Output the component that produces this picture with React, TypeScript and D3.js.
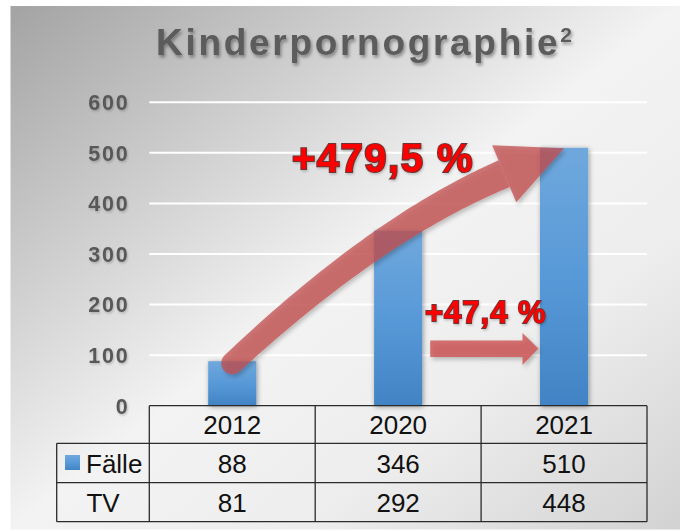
import React from 'react';
import * as d3 from 'd3';

const years = ['2012', '2020', '2021'];
const faelle = [88, 346, 510];
const tv = [81, 292, 448];
const yTicks = [0, 100, 200, 300, 400, 500, 600];
const rowLabels = ['Fälle', 'TV'];
const titleMain = 'Kinderpornographie';
const titleSup = '2';
const bigGrowthLabel = '+479,5 %';
const smallGrowthLabel = '+47,4 %';
const smallArrowLevel = 113;

export default function App() {
  const W = 680, H = 531;
  const plotLeft = 149.3, plotRight = 647;
  const tableLeft = 56.7;
  const y = d3.scaleLinear().domain([0, 600]).range([405.7, 102.3]);
  const col = d3.scaleBand<string>().domain(years).range([plotLeft, plotRight]);
  const xBar = d3.scaleBand<string>().domain(years).range([plotLeft, plotRight]).paddingInner(0.71).paddingOuter(0.355);
  const bw = xBar.bandwidth();
  const rowEdges = [y(0), 443.3, 482.7, 521.7];
  const font = "'Liberation Sans', Arial, sans-serif";

  // big curved arrow from top of first bar to top of last bar
  const S = { x: xBar(years[0])! + bw / 2, y: y(faelle[0]) + 2 };
  const T = { x: xBar(years[2])! + bw / 2, y: y(faelle[2]) + 0.5 };
  const endDir = (() => { const a = Math.atan2(-0.39, 0.92); return { x: Math.cos(a), y: Math.sin(a) }; })();
  const headLen = 65, headHalf = 31;
  const B = { x: T.x - endDir.x * headLen, y: T.y - endDir.y * headLen };
  const sa = (43 * Math.PI) / 180;
  const startDir = { x: Math.cos(sa), y: -Math.sin(sa) };
  const det = startDir.x * (-endDir.y) - (-endDir.x) * startDir.y;
  const dx = B.x - S.x, dy = B.y - S.y;
  const aPar = (dx * (-endDir.y) - (-endDir.x) * dy) / det;
  const C = { x: S.x + aPar * startDir.x, y: S.y + aPar * startDir.y };
  const N = 48;
  const left: [number, number][] = [];
  const right: [number, number][] = [];
  for (let i = 0; i <= N; i++) {
    const t = i / N;
    const px = (1 - t) * (1 - t) * S.x + 2 * (1 - t) * t * C.x + t * t * B.x;
    const py = (1 - t) * (1 - t) * S.y + 2 * (1 - t) * t * C.y + t * t * B.y;
    let tx = 2 * (1 - t) * (C.x - S.x) + 2 * t * (B.x - C.x);
    let ty = 2 * (1 - t) * (C.y - S.y) + 2 * t * (B.y - C.y);
    const l = Math.hypot(tx, ty); tx /= l; ty /= l;
    const hw = 11 + 3.5 * t;
    left.push([px - ty * hw, py + tx * hw]);
    right.push([px + ty * hw, py - tx * hw]);
  }
  const shaftPath = 'M' + left.map(p => p.join(',')).join('L') + 'L' + right.reverse().map(p => p.join(',')).join('L') + 'Z';
  const nx = -endDir.y, ny = endDir.x;
  const headPath = `M${B.x + nx * headHalf},${B.y + ny * headHalf}L${T.x},${T.y}L${B.x - nx * headHalf},${B.y - ny * headHalf}Z`;

  // small horizontal arrow between bar 2020 and bar 2021
  const saY = y(smallArrowLevel);
  const saX0 = xBar(years[1])! + bw + 8;
  const saTip = xBar(years[2])! - 1.5;
  const saHeadStart = saTip - 16;
  const smallArrow = `M${saX0},${saY - 8}L${saHeadStart},${saY - 8}L${saHeadStart},${saY - 15.5}L${saTip},${saY}L${saHeadStart},${saY + 16.5}L${saHeadStart},${saY + 8.5}L${saX0},${saY + 8.5}Z`;

  const tableRowsData = [faelle, tv];

  return (
    <div style={{ position: 'fixed', left: 0, top: 0 }}>
      <svg width={W} height={H} style={{ display: 'block' }}>
        <defs>
          <linearGradient id="bg" x1="0" y1="0" x2="1" y2="1">
            <stop offset="0" stopColor="#a3a3a3" />
            <stop offset="0.5" stopColor="#f3f3f3" />
            <stop offset="0.72" stopColor="#ededed" />
            <stop offset="1" stopColor="#d2d2d2" />
          </linearGradient>
          <linearGradient id="bar" x1="0" y1="0" x2="0" y2="1">
            <stop offset="0" stopColor="#6fa8dc" />
            <stop offset="0.5" stopColor="#5899d8" />
            <stop offset="1" stopColor="#4283c4" />
          </linearGradient>
          <filter id="tshadow" x="-10%" y="-30%" width="120%" height="160%">
            <feDropShadow dx="1.5" dy="2.5" stdDeviation="1.6" floodColor="#000" floodOpacity="0.35" />
          </filter>
          <filter id="lshadow" x="-10%" y="-30%" width="120%" height="160%">
            <feDropShadow dx="1" dy="1.5" stdDeviation="1" floodColor="#000" floodOpacity="0.2" />
          </filter>
          <filter id="bshadow" x="-30%" y="-10%" width="160%" height="120%">
            <feDropShadow dx="1" dy="1" stdDeviation="2.5" floodColor="#000" floodOpacity="0.4" />
          </filter>
          <filter id="ashadow" x="-10%" y="-10%" width="130%" height="130%">
            <feDropShadow dx="2" dy="2.5" stdDeviation="2" floodColor="#000" floodOpacity="0.3" />
          </filter>
        </defs>
        <rect x={10.5} y={6} width={W - 10.5} height={523.5} fill="url(#bg)" />

        <text x={156} y={54.5} fontFamily={font} fontSize={37} fontWeight="bold" letterSpacing={2.7} fill="#5b5b5b" filter="url(#tshadow)">
          {titleMain}<tspan fontSize={21} dy={-13}>{titleSup}</tspan>
        </text>

        {yTicks.filter(v => v > 0).map(v => (
          <line key={'g' + v} x1={plotLeft} x2={plotRight} y1={y(v)} y2={y(v)} stroke="#ffffff" strokeWidth={2} />
        ))}
        {yTicks.map(v => (
          <text key={'yl' + v} x={129.5} y={y(v) + 7.8} textAnchor="end" fontFamily={font} fontSize={21.5} fontWeight="bold" letterSpacing={1.8} fill="#595959" filter="url(#lshadow)">{v}</text>
        ))}

        <g filter="url(#bshadow)">
          {years.map((yr, i) => (
            <rect key={'b' + yr} x={xBar(yr)} y={y(faelle[i])} width={bw} height={y(0) - y(faelle[i])} fill="url(#bar)" />
          ))}
        </g>

        <g filter="url(#ashadow)">
          <g opacity={0.75} fill="#c24c4c">
            <path d={shaftPath} />
            <circle cx={S.x} cy={S.y} r={11} />
            <path d={headPath} />
          </g>
          <path d={smallArrow} fill="#cc4e4e" opacity={0.78} />
        </g>

        <text x={292} y={171.5} fontFamily={font} fontSize={40} fontWeight="bold" letterSpacing={1.5} fill="#ff0000" stroke="#6e3535" strokeWidth={2.2} paintOrder="stroke" filter="url(#lshadow)">{bigGrowthLabel}</text>
        <text x={425} y={323} fontFamily={font} fontSize={31} fontWeight="bold" letterSpacing={1} fill="#ff0000" stroke="#6e3535" strokeWidth={1.8} paintOrder="stroke" filter="url(#lshadow)">{smallGrowthLabel}</text>

        <g stroke="#2b2b2b" strokeWidth={1.3} fill="none">
          <line x1={plotLeft} x2={plotRight} y1={rowEdges[0]} y2={rowEdges[0]} />
          {rowEdges.slice(1).map((e, i) => (
            <line key={'h' + i} x1={tableLeft} x2={plotRight} y1={e} y2={e} />
          ))}
          <line x1={tableLeft} x2={tableLeft} y1={rowEdges[1]} y2={rowEdges[3]} />
          {years.map(yr => (
            <line key={'v' + yr} x1={col(yr)} x2={col(yr)} y1={rowEdges[0]} y2={rowEdges[3]} />
          ))}
          <line x1={plotRight} x2={plotRight} y1={rowEdges[0]} y2={rowEdges[3]} />
        </g>

        {years.map(yr => (
          <text key={'hd' + yr} x={col(yr)! + col.bandwidth() / 2} y={(rowEdges[0] + rowEdges[1]) / 2 + 9.5} textAnchor="middle" fontFamily={font} fontSize={26} fill="#111">{yr}</text>
        ))}
        {tableRowsData.map((row, r) => row.map((v, i) => (
          <text key={'c' + r + i} x={col(years[i])! + col.bandwidth() / 2} y={(rowEdges[r + 1] + rowEdges[r + 2]) / 2 + 9.5} textAnchor="middle" fontFamily={font} fontSize={26} fill="#111">{v}</text>
        )))}
        <rect x={65} y={455} width={15} height={15} fill="url(#bar)" />
        <text x={86} y={(rowEdges[1] + rowEdges[2]) / 2 + 9.5} fontFamily={font} fontSize={26} fill="#111">{rowLabels[0]}</text>
        <text x={(tableLeft + plotLeft) / 2} y={(rowEdges[2] + rowEdges[3]) / 2 + 9.5} textAnchor="middle" fontFamily={font} fontSize={26} fill="#111">{rowLabels[1]}</text>
      </svg>
    </div>
  );
}
